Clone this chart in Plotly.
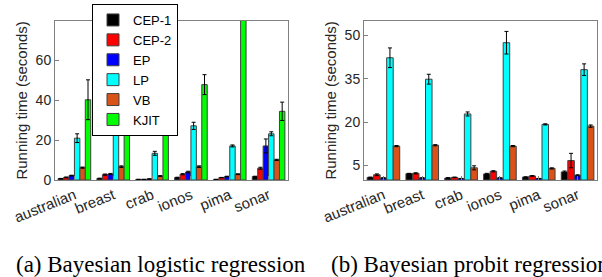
import plotly.graph_objects as go

categories = ["australian", "breast", "crab", "ionos", "pima", "sonar"]

# (a) Bayesian logistic regression
logit_series = ["CEP-1", "CEP-2", "EP", "LP", "VB", "KJIT"]
logit_cep1 = [0.7, 0.8, 0.3, 1.2, 0.3, 1.7]
logit_cep2 = [1.3, 2.7, 0.3, 2.9, 1.2, 5.9]
logit_ep = [2.2, 3.0, 0.5, 4.0, 1.7, 17.1]
logit_lp = [21.0, 23.4, 13.4, 27.2, 17.1, 23.2]
logit_vb = [6.2, 6.7, 2.0, 6.7, 2.9, 10.1]
logit_kjit = [40.3, 31.5, 39.8, 47.9, 120.0, 34.5]
logit_cep1_err = [0.1, 0.1, 0.05, 0.2, 0.05, 0.2]
logit_cep2_err = [0.2, 0.3, 0.05, 0.3, 0.1, 0.5]
logit_ep_err = [0.2, 0.3, 0.1, 0.4, 0.2, 3.5]
logit_lp_err = [2.2, 1.0, 1.0, 1.8, 0.5, 1.0]
logit_vb_err = [0.3, 0.4, 0.2, 0.4, 0.2, 0.3]
logit_kjit_err = [10.0, 1.0, 10.5, 5.0, 0.0, 4.6]

# (b) Bayesian probit regression
probit_series = ["CEP-1", "CEP-2", "EP", "LP", "VB"]
probit_cep1 = [0.9, 2.2, 0.7, 2.1, 1.0, 2.8]
probit_cep2 = [1.8, 2.3, 0.9, 3.0, 1.4, 6.7]
probit_ep = [0.7, 0.7, 0.5, 0.7, 0.5, 1.6]
probit_lp = [42.2, 34.8, 22.8, 47.4, 19.2, 38.1]
probit_vb = [11.7, 12.0, 4.2, 11.7, 4.0, 18.6]
probit_cep1_err = [0.1, 0.1, 0.1, 0.2, 0.1, 0.3]
probit_cep2_err = [0.3, 0.2, 0.1, 0.2, 0.1, 2.5]
probit_ep_err = [0.05, 0.05, 0.05, 0.05, 0.05, 0.2]
probit_lp_err = [3.4, 1.7, 0.7, 3.9, 0.2, 2.0]
probit_vb_err = [0.2, 0.2, 0.7, 0.2, 0.2, 0.4]

colors = ["#000000", "#ff0000", "#0000ff", "#00ffff", "#d95319", "#00ff00"]

logit_vals = [logit_cep1, logit_cep2, logit_ep, logit_lp, logit_vb, logit_kjit]
logit_errs = [logit_cep1_err, logit_cep2_err, logit_ep_err, logit_lp_err, logit_vb_err, logit_kjit_err]
probit_vals = [probit_cep1, probit_cep2, probit_ep, probit_lp, probit_vb]
probit_errs = [probit_cep1_err, probit_cep2_err, probit_ep_err, probit_lp_err, probit_vb_err]

fig = go.Figure()
for name, vals, errs, col in zip(logit_series, logit_vals, logit_errs, colors):
    fig.add_trace(go.Bar(
        x=categories, y=vals, name=name, marker=dict(color=col, line=dict(color="#404040", width=1)),
        error_y=dict(type="data", array=errs, color="#000000", thickness=1, width=2),
        xaxis="x", yaxis="y", showlegend=True))
for name, vals, errs, col in zip(probit_series, probit_vals, probit_errs, colors):
    fig.add_trace(go.Bar(
        x=categories, y=vals, name=name, marker=dict(color=col, line=dict(color="#404040", width=1)),
        error_y=dict(type="data", array=errs, color="#000000", thickness=1, width=2),
        xaxis="x2", yaxis="y2", showlegend=False))

W, H = 602, 277
ydom = [(H - 180) / H, (H - 20.7) / H]
axis_common = dict(showline=True, linecolor="#808080", linewidth=1, mirror=True, automargin=False,
                   ticks="inside", ticklen=4, tickcolor="#808080", showgrid=False, zeroline=False,
                   tickfont=dict(family="Liberation Sans, Arial", size=14, color="#262626"))
xfont = dict(family="Liberation Sans, Arial", size=15, color="#262626")
ytitle = dict(text="Running time (seconds)", font=dict(size=15, color="#262626"), standoff=4)
fig.update_layout(
    width=W, height=H, margin=dict(l=0, r=0, t=0, b=0, autoexpand=False),
    paper_bgcolor="white", plot_bgcolor="white",
    barmode="group", bargap=0.16, bargroupgap=0.0,
    font=dict(family="Liberation Sans, Arial", size=14, color="#262626"),
    xaxis=dict(domain=[55 / W, 288 / W], range=[-0.5, 5.5], tickangle=-22, anchor="y", **axis_common),
    yaxis=dict(domain=ydom, range=[0, 80], tickvals=[0, 20, 40, 60], anchor="x", title=ytitle, **axis_common),
    xaxis2=dict(domain=[364 / W, 597 / W], range=[-0.5, 5.5], tickangle=-22, anchor="y2", **axis_common),
    yaxis2=dict(domain=ydom, range=[0, 55], tickvals=[5, 20, 35, 50], anchor="x2", title=ytitle, **axis_common),
    legend=dict(x=92 / W, y=1 - 4 / H, xanchor="left", yanchor="top", bgcolor="white",
                bordercolor="#000000", borderwidth=1, font=dict(size=13, color="#000000"),
                itemwidth=30, tracegroupgap=0),
    annotations=[
        dict(text="(a) Bayesian logistic regression", x=161 / W, y=(H - 264) / H, xref="paper", yref="paper",
             xanchor="center", yanchor="middle", showarrow=False,
             font=dict(family="Liberation Serif, Times New Roman", size=23, color="#000000")),
        dict(text="(b) Bayesian probit regression", x=329 / W, y=(H - 264) / H, xref="paper", yref="paper",
             xanchor="left", yanchor="middle", showarrow=False,
             font=dict(family="Liberation Serif, Times New Roman", size=23, color="#000000")),
    ],
)
fig.update_xaxes(tickfont=xfont)
fig.write_html("out.html", config={"displayModeBar": False},
               post_script="document.body.style.margin='0';")
